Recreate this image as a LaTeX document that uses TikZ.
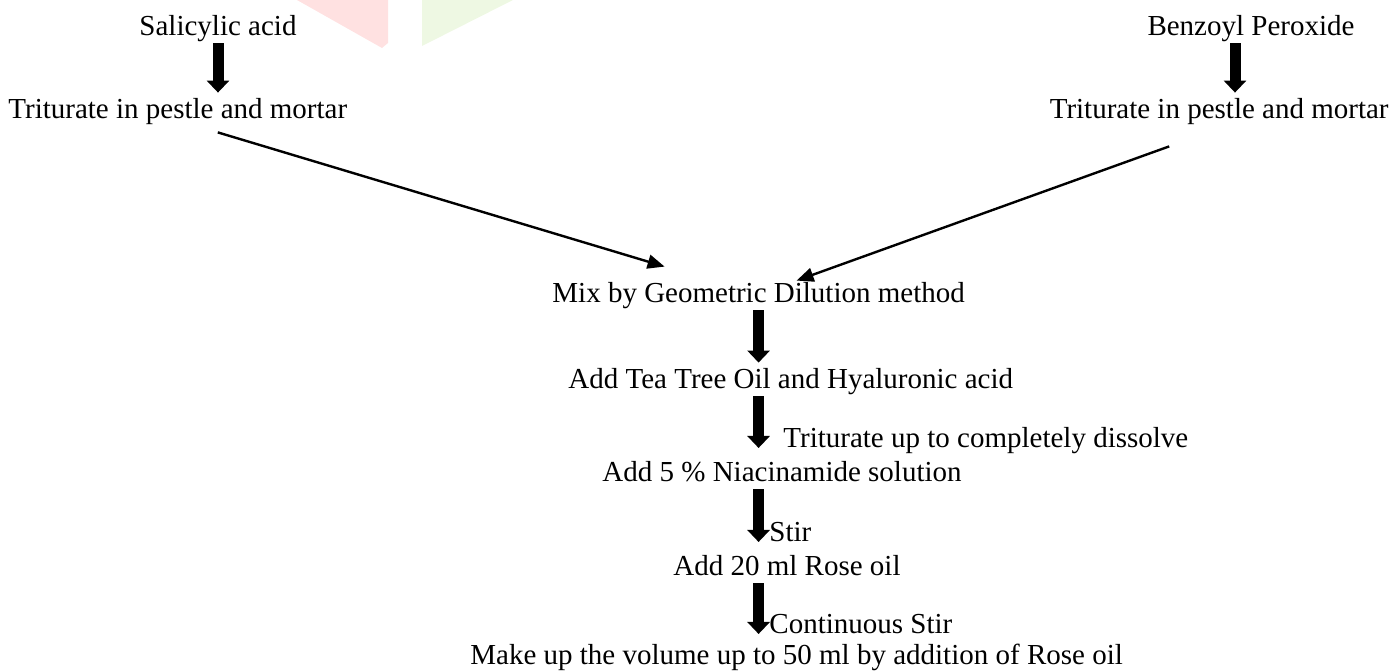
\documentclass[tikz,border=0pt]{standalone}
\usepackage{fontspec}
\setmainfont{Liberation Serif}
\usepackage{tikz}
\usetikzlibrary{arrows.meta,positioning,calc}

\definecolor{wmred}{HTML}{FFE1E1}
\definecolor{wmgreen}{HTML}{EEF8E3}

\begin{document}
\begin{tikzpicture}[x=0.5pt,y=-0.5pt,
    txt/.style={inner sep=0pt,text height=10pt,text depth=3.5pt,
                font=\fontsize{14.5}{17}\selectfont},
    bigarrow/.style={line width=5.5pt,-{Triangle[width=11pt,length=6pt]}},
    thinarrow/.style={line width=1.2pt,-{Triangle[width=7pt,length=8.5pt]}}]
  \useasboundingbox (0,0) rectangle (1392,672);
  \fill[wmred]   (297,0) -- (388,0) -- (388,43) -- (382,48) -- cycle;
  \fill[wmgreen] (422,0) -- (513,0) -- (422,46) -- cycle;

  \node[txt, anchor=base]      (sal)   at (218,36)   {Salicylic acid};
  \node[txt, anchor=base west] (tri1)  at (8,119)    {Triturate in pestle and mortar};
  \node[txt, anchor=base]      (bp)    at (1251,36)  {Benzoyl Peroxide};
  \node[txt, anchor=base east] (tri2)  at (1389,119) {Triturate in pestle and mortar};
  \node[txt, anchor=base west] (mix)   at (552,303)  {Mix by Geometric Dilution method};
  \node[txt, anchor=base west] (tea)   at (568,389)  {Add Tea Tree Oil and Hyaluronic acid};
  \node[txt, anchor=base west] (dis)   at (783,448)  {Triturate up to completely dissolve};
  \node[txt, anchor=base west] (nia)   at (602,482)  {Add 5 \% Niacinamide solution};
  \node[txt, anchor=base west] (stir)  at (769,542)  {Stir};
  \node[txt, anchor=base west] (r20)   at (673,576)  {Add 20 ml Rose oil};
  \node[txt, anchor=base west] (cstir) at (769,634)  {Continuous Stir};
  \node[txt, anchor=base west] (make)  at (470,665)  {Make up the volume up to 50 ml by addition of Rose oil};

  \draw[bigarrow] (sal.south) -- ($(sal.south |- tri1.north)+(0,-6)$);
  \draw[bigarrow] ($(bp.south)+(-16,0)$) -- ($(bp.south |- tri2.north)+(-16,-6)$);
  \draw[thinarrow] ($(tri1.south)+(40,6)$) -- ($(mix.north)+(-94,-16)$);
  \draw[thinarrow] ($(tri2.south)+(-50,20)$) -- ($(mix.north)+(38,-2)$);
  \draw[bigarrow] (mix.south) -- ($(mix.south |- tea.north)+(0,-6)$);
  \draw[bigarrow] (tea.south -| mix.south) -- (dis.base -| mix.south);
  \draw[bigarrow] (nia.south -| mix.south) -- (stir.base -| mix.south);
  \draw[bigarrow] (r20.south -| mix.south) -- (cstir.base -| mix.south);
\end{tikzpicture}
\end{document}
